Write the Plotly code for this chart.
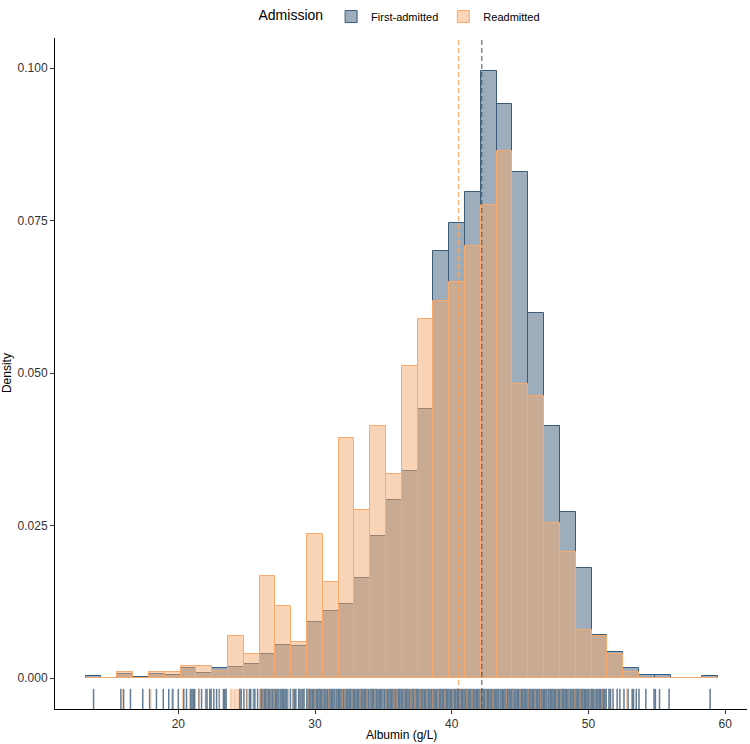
import plotly.graph_objects as go

# ---------------- data ----------------
groups = ["First-admitted", "Readmitted"]
albumin_min = 13.8
albumin_max = 58.9
n_bins = 40

first_density = [0.0003, 0.0, 0.00065, 0.00025, 0.0006, 0.0005, 0.00164, 0.00087, 0.0016, 0.00185,
                 0.00235, 0.0039, 0.0054, 0.0052, 0.0092, 0.0110, 0.0122, 0.0164, 0.0233, 0.0292,
                 0.0340, 0.0442, 0.0701, 0.0746, 0.0797, 0.0996, 0.0942, 0.0830, 0.0599, 0.0414,
                 0.0272, 0.0181, 0.0070, 0.0043, 0.0016, 0.00054, 0.00054, 0.0, 0.0, 0.00028]
re_density = [0.0, 0.0, 0.00103, 0.0, 0.00103, 0.00103, 0.0020, 0.0020, 0.00115, 0.0069,
              0.0040, 0.01675, 0.0118, 0.0059, 0.0236, 0.0157, 0.0393, 0.0275, 0.0413, 0.0334,
              0.0511, 0.0589, 0.0619, 0.0649, 0.0708, 0.0776, 0.0865, 0.0482, 0.0462, 0.0255,
              0.0206, 0.0079, 0.0069, 0.0039, 0.0010, 0.0, 0.0, 0.0, 0.0, 0.0]

group_means = [42.2, 40.5]

first_rug = [13.8, 15.8, 16.0, 16.5, 17.4, 17.9, 18.4, 18.9, 19.3, 19.6,
             20.0, 20.4, 20.6, 20.9, 21.0, 21.1, 21.2, 21.5, 21.7, 22.0,
             22.1, 22.3, 22.4, 22.6, 22.8, 23.0, 23.3, 23.4, 23.5, 24.5,
             24.6, 24.8, 25.0, 25.2, 25.3, 25.5, 25.6, 25.8,
             26.0, 26.1, 26.2, 26.3, 26.4, 26.5, 26.6, 26.7, 26.8, 26.9,
             27.0, 27.1, 27.2, 27.3, 27.4, 27.5, 27.6, 27.7, 27.8, 27.9,
             28.0, 28.2, 28.4, 28.5, 28.6, 28.8, 28.9,
             29.0, 29.1, 29.2, 29.4, 29.5, 29.6, 29.7, 29.8, 29.9,
             30.0, 30.1, 30.2, 30.3, 30.4, 30.5, 30.6, 30.7, 30.8, 30.9,
             31.0, 31.1, 31.2, 31.3, 31.4, 31.5, 31.6, 31.7, 31.8, 31.9,
             32.0, 32.1, 32.2, 32.3, 32.4, 32.5, 32.6, 32.7, 32.8, 32.9,
             33.0, 33.1, 33.2, 33.3, 33.4, 33.5, 33.6, 33.7, 33.8, 33.9,
             34.0, 34.1, 34.2, 34.3, 34.4, 34.5, 34.6, 34.7, 34.8, 34.9,
             35.0, 35.1, 35.2, 35.3, 35.4, 35.5, 35.6, 35.7, 35.8, 35.9,
             36.0, 36.1, 36.2, 36.3, 36.4, 36.5, 36.6, 36.7, 36.8, 36.9,
             37.0, 37.1, 37.2, 37.3, 37.4, 37.5, 37.6, 37.7, 37.8, 37.9,
             38.0, 38.1, 38.2, 38.3, 38.4, 38.5, 38.6, 38.7, 38.8, 38.9,
             39.0, 39.1, 39.2, 39.3, 39.4, 39.5, 39.6, 39.7, 39.8, 39.9,
             40.0, 40.1, 40.2, 40.3, 40.4, 40.5, 40.6, 40.7, 40.8, 40.9,
             41.0, 41.1, 41.2, 41.3, 41.4, 41.5, 41.6, 41.7, 41.8, 41.9,
             42.0, 42.1, 42.2, 42.3, 42.4, 42.5, 42.6, 42.7, 42.8, 42.9,
             43.0, 43.1, 43.2, 43.3, 43.4, 43.5, 43.6, 43.7, 43.8, 43.9,
             44.0, 44.1, 44.2, 44.3, 44.4, 44.5, 44.6, 44.7, 44.8, 44.9,
             45.0, 45.1, 45.2, 45.3, 45.4, 45.5, 45.6, 45.7, 45.8, 45.9,
             46.0, 46.1, 46.2, 46.3, 46.4, 46.5, 46.6, 46.7, 46.8, 46.9,
             47.0, 47.1, 47.2, 47.3, 47.4, 47.5, 47.6, 47.7, 47.8, 47.9,
             48.0, 48.1, 48.2, 48.3, 48.4, 48.5, 48.6, 48.7, 48.8, 48.9,
             49.0, 49.1, 49.2, 49.3, 49.4, 49.5, 49.6, 49.7, 49.8, 49.9,
             50.0, 50.1, 50.2, 50.3, 50.4, 50.5, 50.6, 50.7, 50.8, 50.9,
             51.0, 51.1, 51.2, 51.3, 51.5, 51.6, 51.8,
             52.1, 52.3, 52.6, 52.9, 53.2, 53.3, 53.5, 53.7, 54.2, 54.8,
             54.9, 55.2, 55.9, 58.9]

re_rug = [15.9, 18.0, 19.5, 20.3, 20.8, 21.5, 22.0, 23.0, 23.8, 23.9,
          24.0, 24.1, 24.2, 24.3, 24.4, 25.0, 25.5, 26.0, 26.2, 26.5,
          26.8, 27.0, 27.4, 28.0, 28.4, 29.0, 29.5, 30.0, 30.6, 31.0,
          31.5, 32.0, 32.2, 32.7, 33.3, 33.8, 34.0, 34.4, 35.0, 35.2,
          35.8, 36.0, 36.5, 37.0, 37.3, 37.7, 38.2, 38.6, 39.0, 39.5,
          40.1, 40.6, 41.1, 41.5, 42.1, 42.5, 43.0, 43.5, 44.0, 44.5,
          45.0, 45.6, 46.1, 46.5, 47.0, 47.7, 48.0, 48.6, 49.0, 49.4,
          50.1, 50.5, 51.0, 51.7, 52.8]

x_ticks = [20, 30, 40, 50, 60]
y_ticks = [0.0, 0.025, 0.05, 0.075, 0.1]
y_tick_labels = ["0.000", "0.025", "0.050", "0.075", "0.100"]

# ---------------- styles ----------------
line_cols = ["#3B5B78", "#F6AA6E"]
fill_cols = ["rgba(59,91,120,0.5)", "rgba(246,170,110,0.5)"]
rug_cols = ["rgba(59,91,120,0.8)", "rgba(240,160,100,0.6)"]
mean_cols = ["rgba(59,80,100,0.75)", "rgba(246,170,110,0.95)"]

bin_width = (albumin_max - albumin_min) / (n_bins - 1)
centers = [albumin_min + bin_width * i for i in range(n_bins)]

x_range = [10.98, 61.6]
y_range = [-0.00507, 0.10496]
rug_top = y_range[0] + 0.03 * (y_range[1] - y_range[0])

fig = go.Figure()
for name, dens, lc, fc in zip(groups, [first_density, re_density], line_cols, fill_cols):
    fig.add_trace(go.Bar(x=centers, y=dens, width=bin_width, name=name,
                         marker=dict(color=fc, line=dict(color=lc, width=1)),
                         hoverinfo="x+y"))

for m, c in zip(group_means, mean_cols):
    fig.add_trace(go.Scatter(x=[m, m], y=y_range, mode="lines", showlegend=False,
                             line=dict(color=c, width=1.3, dash="5px,3px"), hoverinfo="skip"))

for vals, c, w in zip([first_rug, re_rug], rug_cols, [1.5, 1.0]):
    xs, ys = [], []
    for v in vals:
        xs += [v, v, None]
        ys += [y_range[0], rug_top, None]
    fig.add_trace(go.Scatter(x=xs, y=ys, mode="lines", showlegend=False,
                             line=dict(color=c, width=w, simplify=False), hoverinfo="skip"))

axis_common = dict(showline=True, linecolor="black", linewidth=1, ticks="outside",
                   ticklen=4, tickcolor="#333333", showgrid=False, zeroline=False,
                   tickfont=dict(size=12, color="#333333"))

fig.update_layout(
    width=750, height=744,
    margin=dict(l=55, r=3, t=37, b=35),
    plot_bgcolor="white", paper_bgcolor="white",
    barmode="overlay", bargap=0,
    font=dict(family="Liberation Sans, Arial, sans-serif", color="black"),
    xaxis=dict(range=x_range, tickvals=x_ticks, **axis_common),
    yaxis=dict(range=y_range, tickvals=y_ticks, ticktext=y_tick_labels, **axis_common),
    legend=dict(orientation="h", x=0.5, xanchor="center", y=1.052, yanchor="top",
                title=dict(text="Admission", font=dict(size=14)),
                font=dict(size=11), itemwidth=30, traceorder="normal"),
    annotations=[
        dict(text="Density", xref="paper", yref="paper", x=-0.07, y=0.5, textangle=-90,
             showarrow=False, font=dict(size=12, color="black"), xanchor="center", yanchor="middle"),
        dict(text="Albumin (g/L)", xref="paper", yref="paper", x=0.5, y=-0.0385,
             showarrow=False, font=dict(size=12, color="black"), xanchor="center", yanchor="middle"),
    ],
)

fig.write_html("out.html")
